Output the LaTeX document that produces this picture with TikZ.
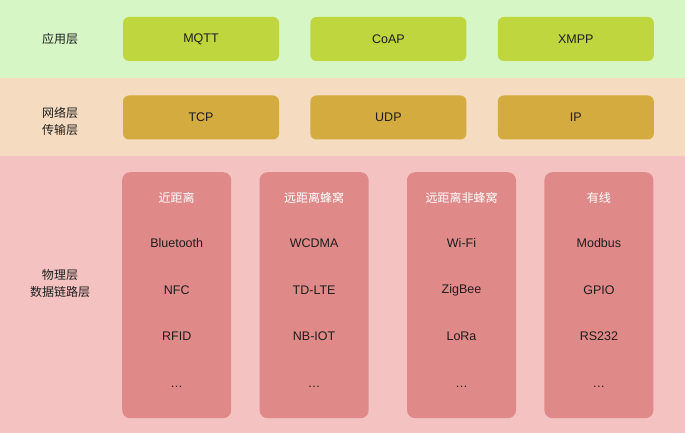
\documentclass[tikz,border=0pt]{standalone}
\usepackage{fontspec}
\setmainfont{Liberation Sans}
\newfontfamily\cjk{Noto Sans CJK SC}
\usepackage{xcolor}
\usepackage{tikz}
\usetikzlibrary{positioning}
\definecolor{appband}{HTML}{D6F6C6}
\definecolor{appbox}{HTML}{BFD63E}
\definecolor{netband}{HTML}{F5DBC0}
\definecolor{netbox}{HTML}{D3AB3E}
\definecolor{phyband}{HTML}{F4C2C1}
\definecolor{phybox}{HTML}{DF8A89}
\definecolor{ink}{HTML}{1E1E1E}
\tikzstyle{band} = [rectangle, inner sep=0pt, minimum width=685pt, anchor=north west]
\tikzstyle{proto} = [rectangle, rounded corners=6pt, minimum width=156pt, minimum height=44pt, text centered, text=ink, font=\fontsize{12.5}{14}\selectfont]
\tikzstyle{column} = [rectangle, rounded corners=8pt, minimum width=109pt, minimum height=246pt, fill=phybox, anchor=north west]
\tikzstyle{layer} = [align=center, text=ink, font=\cjk\fontsize{12}{17}\selectfont]
\tikzstyle{head} = [text=white, font=\cjk\fontsize{12}{14}\selectfont]
\tikzstyle{item} = [text=ink, font=\fontsize{12.5}{14}\selectfont]

\begin{document}
\begin{tikzpicture}[x=1pt, y=-1pt, node distance=31pt]
            \useasboundingbox (0,0) rectangle (685,433);
            % layer bands
            \node[band, fill=appband, minimum height=78pt] (appl) at (0,0) {};
            \node[band, fill=netband, minimum height=78pt] (netl) at (0,78) {};
            \node[band, fill=phyband, minimum height=277pt] (phyl) at (0,156) {};
            \node[layer] (applabel) at (60,39) {应用层};
            \node[layer] (netlabel) at (60,121) {网络层\\传输层};
            \node[layer] (phylabel) at (60,283) {物理层\\数据链路层};

            % protocols
            \node[proto, fill=appbox] (mqtt) at (201,39) {MQTT};
            \node[proto, fill=appbox, right=of mqtt] (coap) {CoAP};
            \node[proto, fill=appbox, right=of coap] (xmpp) {XMPP};
            \node[proto, fill=netbox] (tcp) at (201,117.5) {TCP};
            \node[proto, fill=netbox, right=of tcp] (udp) {UDP};
            \node[proto, fill=netbox, right=of udp] (ip) {IP};

            % link columns
            \node[column] (near) at (122,172) {};
            \node[column, right=28pt of near] (cell) {};
            \node[column, right=38pt of cell] (lpwan) {};
            \node[column, right=28pt of lpwan] (wired) {};

            \node[head] (nearhead) at ([yshift=-26pt]near.north) {近距离};
            \node[item] (bluetooth) at ([yshift=-71pt]near.north) {Bluetooth};
            \node[item] (nfc) at ([yshift=-118pt]near.north) {NFC};
            \node[item] (rfid) at ([yshift=-164pt]near.north) {RFID};
            \node[item] (neardots) at ([yshift=-215pt]near.north) {\ldots};

            \node[head] (cellhead) at ([yshift=-26pt]cell.north) {远距离蜂窝};
            \node[item] (wcdma) at ([yshift=-71pt]cell.north) {WCDMA};
            \node[item] (tdlte) at ([yshift=-118pt]cell.north) {TD-LTE};
            \node[item] (nbiot) at ([yshift=-164pt]cell.north) {NB-IOT};
            \node[item] (celldots) at ([yshift=-215pt]cell.north) {\ldots};

            \node[head] (lpwanhead) at ([yshift=-26pt]lpwan.north) {远距离非蜂窝};
            \node[item] (wifi) at ([yshift=-71pt]lpwan.north) {Wi-Fi};
            \node[item] (zigbee) at ([yshift=-118pt]lpwan.north) {ZigBee};
            \node[item] (lora) at ([yshift=-164pt]lpwan.north) {LoRa};
            \node[item] (lpwandots) at ([yshift=-215pt]lpwan.north) {\ldots};

            \node[head] (wiredhead) at ([yshift=-26pt]wired.north) {有线};
            \node[item] (modbus) at ([yshift=-71pt]wired.north) {Modbus};
            \node[item] (gpio) at ([yshift=-118pt]wired.north) {GPIO};
            \node[item] (rs232) at ([yshift=-164pt]wired.north) {RS232};
            \node[item] (wireddots) at ([yshift=-215pt]wired.north) {\ldots};
        \end{tikzpicture}
\end{document}
